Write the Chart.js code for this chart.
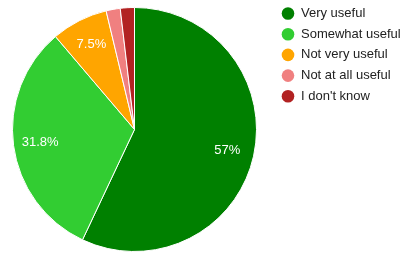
<!DOCTYPE html>
<html>
<head>
<meta charset="utf-8">
<script src="https://cdn.jsdelivr.net/npm/chart.js@4"></script>
<style>
  html, body { margin: 0; padding: 0; background: #fff; }
  #wrap { width: 407px; height: 262px; }
</style>
</head>
<body>
<div id="wrap"><canvas id="pieChart" width="407" height="262"></canvas></div>
<script>
const labels = ['Very useful', 'Somewhat useful', 'Not very useful', 'Not at all useful', "I don't know"];
const counts = [61, 34, 8, 2, 2];
const colors = ['#008000', '#32cd32', '#ffa500', '#f08080', '#b22222'];

// slice percentages, drawn only where the slice is wide enough
const sliceLabels = {
  id: 'sliceLabels',
  afterDatasetsDraw(chart) {
    const ctx = chart.ctx;
    const total = counts.reduce((a, b) => a + b, 0);
    const meta = chart.getDatasetMeta(0);
    ctx.save();
    ctx.font = '13px Arial, "Liberation Sans", sans-serif';
    ctx.fillStyle = '#fff';
    ctx.textAlign = 'center';
    ctx.textBaseline = 'middle';
    meta.data.forEach((arc, i) => {
      const pct = counts[i] / total * 100;
      if (pct < 5) return;
      const mid = (arc.startAngle + arc.endAngle) / 2;
      const r = arc.outerRadius * 0.78;
      const txt = (Math.round(pct * 10) / 10) + '%';
      ctx.fillText(txt, arc.x + Math.cos(mid) * r, arc.y + Math.sin(mid) * r);
    });
    ctx.restore();
  }
};

// legend on the right, circles + text
const sideLegend = {
  id: 'sideLegend',
  afterDraw(chart) {
    const ctx = chart.ctx;
    ctx.save();
    ctx.font = '13px Arial, "Liberation Sans", sans-serif';
    ctx.textBaseline = 'middle';
    labels.forEach((lab, i) => {
      const y = 13.5 + i * 20.7;
      ctx.beginPath();
      ctx.arc(288, y, 6.3, 0, Math.PI * 2);
      ctx.fillStyle = colors[i];
      ctx.fill();
      ctx.fillStyle = '#222';
      ctx.fillText(lab, 301, y);
    });
    ctx.restore();
  }
};

new Chart(document.getElementById('pieChart'), {
  type: 'pie',
  data: {
    labels,
    datasets: [{
      data: counts,
      backgroundColor: colors,
      borderColor: '#fff',
      borderWidth: 1
    }]
  },
  options: {
    responsive: false,
    animation: false,
    layout: { padding: { left: 12, top: 7, right: 150, bottom: 10 } },
    plugins: {
      legend: { display: false },
      tooltip: { enabled: false }
    }
  },
  plugins: [sliceLabels, sideLegend]
});
</script>
</body>
</html>
